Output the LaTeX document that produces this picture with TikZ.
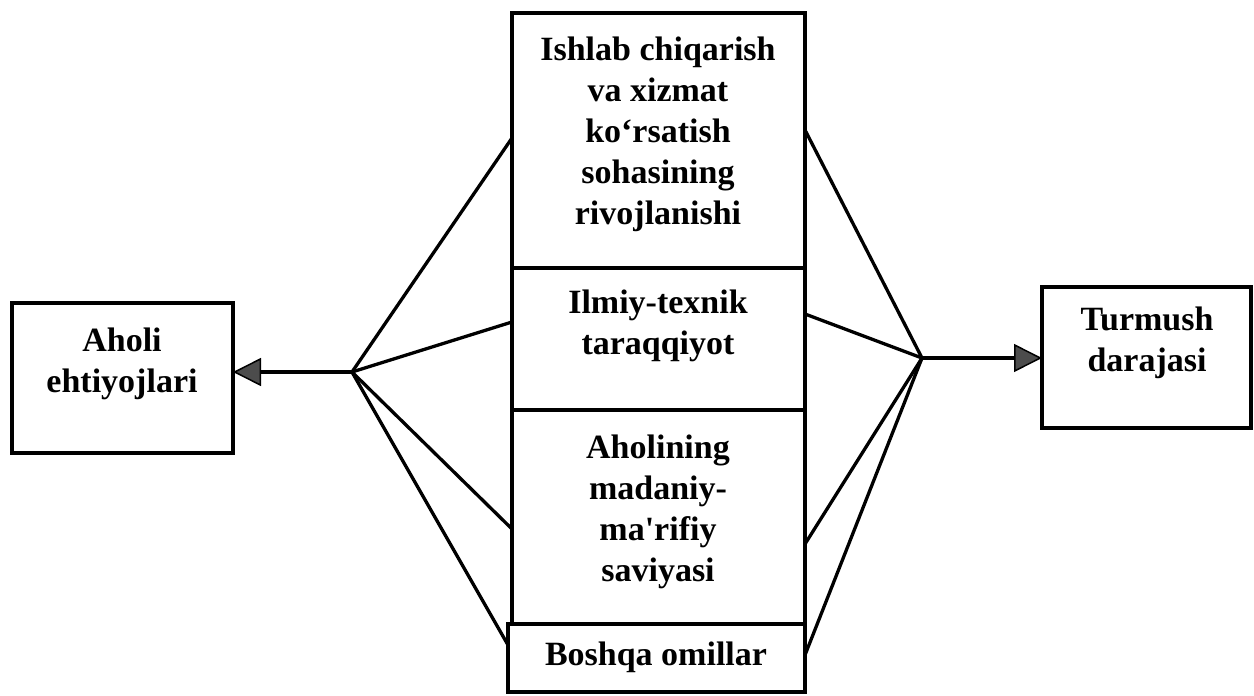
\documentclass[tikz,border=0pt]{standalone}
\usepackage{fontspec}
\newfontfamily\diafont{Liberation Serif}
\usetikzlibrary{arrows.meta}
\begin{document}
\begin{tikzpicture}[x=1pt,y=-1pt,
  box/.style={draw=black, line width=3.3pt, rectangle, inner sep=0pt, outer sep=0pt},
  lbl/.style={align=center, inner sep=0pt, font=\diafont\bfseries\fontsize{34}{41}\selectfont},
  conn/.style={draw=black, line width=3.3pt},
  arr/.style={conn, -{Triangle[length=28pt,width=28pt,fill=black!70,line width=1.5pt]}}]
\useasboundingbox (0,0) rectangle (1254,696);
% central boxes
\node[box, minimum width=293pt, minimum height=255pt] (b1) at (658.5,140.5) {};
\node[box, minimum width=293pt, minimum height=142pt] (b2) at (658.5,339) {};
\node[box, minimum width=293pt, minimum height=214pt] (b3) at (658.5,517) {};
\node[box, minimum width=297pt, minimum height=68pt] (b4) at (656.5,658) {};
% side boxes
\node[box, minimum width=221pt, minimum height=150pt] (lb) at (122.5,378) {};
\node[box, minimum width=209pt, minimum height=141pt] (rb) at (1146.5,357.5) {};
% texts
\node[lbl] (t1) at (658,134) {Ishlab chiqarish\\va xizmat\\ko‘rsatish\\sohasining\\rivojlanishi};
\node[lbl] (t2) at (658,326) {Ilmiy-texnik\\taraqqiyot};
\node[lbl] (t3) at (658,512) {Aholining\\madaniy-\\ma'rifiy\\saviyasi};
\node[lbl] (t4) at (656,657) {Boshqa omillar};
\node[lbl] (tl) at (122,364) {Aholi\\ehtiyojlari};
\node[lbl] (tr) at (1147,343) {Turmush\\darajasi};
% hubs
\coordinate (lh) at (352,372);
\coordinate (rh) at (922,358);
% left fan
\draw[conn] (lh) -- (b1.west |- 0,138);
\draw[conn] (lh) -- (b2.west |- 0,322);
\draw[conn] (lh) -- (b3.west |- 0,529);
\draw[conn] (lh) -- (b4.west |- 0,645);
% right fan
\draw[conn] (rh) -- (b1.east |- 0,130);
\draw[conn] (rh) -- (b2.east |- 0,314);
\draw[conn] (rh) -- (b3.east |- 0,544);
\draw[conn] (rh) -- (b4.east |- 0,655);
% arrows
\draw[arr] (lh) -- (lh -| lb.east);
\draw[arr] (rh) -- (rh -| rb.west);
\end{tikzpicture}
\end{document}
